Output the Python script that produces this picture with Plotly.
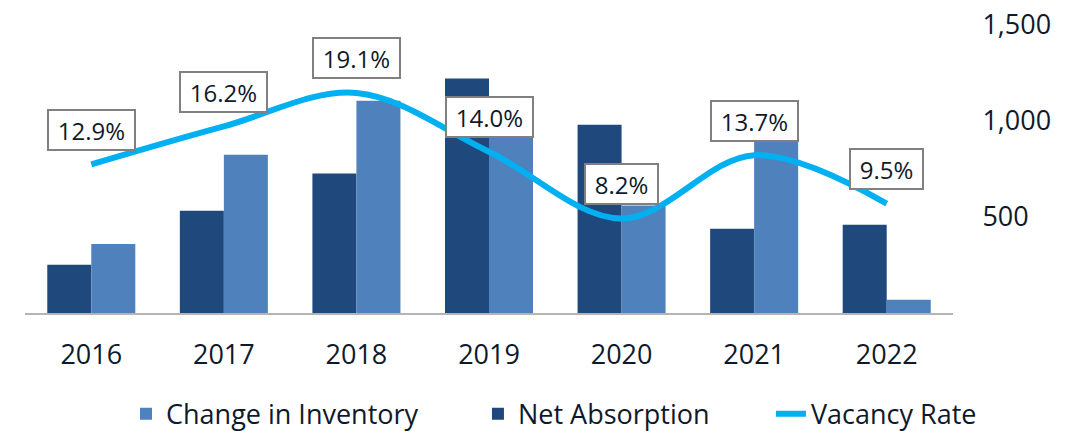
import plotly.graph_objects as go

# Annual figures
years = [2016, 2017, 2018, 2019, 2020, 2021, 2022]
net_absorption = [251, 532, 726, 1221, 980, 439, 459]
change_in_inventory = [359, 824, 1106, 1015, 560, 1049, 69]
vacancy_rate = [12.9, 16.2, 19.1, 14.0, 8.2, 13.7, 9.5]

y_ticks = [500, 1000, 1500]
y_tick_text = ["500", "1,000", "1,500"]

DARK = "#1F497D"
LIGHT = "#4F81BD"
CYAN = "#00B0F0"
TEXT = "#0E1A2B"
FONT = "Open Sans"
FS = 27

fig = go.Figure()

fig.add_trace(go.Bar(
    x=years, y=net_absorption, name="Net Absorption",
    marker=dict(color=DARK, line=dict(width=0)),
    legend="legend2",
))
fig.add_trace(go.Bar(
    x=years, y=change_in_inventory, name="Change in Inventory",
    marker=dict(color=LIGHT, line=dict(width=0)),
    legend="legend",
))
fig.add_trace(go.Scatter(
    x=years, y=vacancy_rate, name="Vacancy Rate", yaxis="y2",
    mode="lines", line=dict(color=CYAN, width=6, shape="spline", smoothing=1.0),
    legend="legend3",
))

# Boxed vacancy labels above each point
for yr, v in zip(years, vacancy_rate):
    fig.add_annotation(
        x=yr, y=v, xref="x", yref="y2", text=f"\u00a0{v:.1f}%\u00a0",
        showarrow=False, yshift=34.5,
        font=dict(family=FONT, size=24, color=TEXT),
        bgcolor="white", bordercolor="#808080", borderwidth=2, borderpad=2.5,
    )

legend_style = dict(
    orientation="h", xref="container", yref="container",
    xanchor="left", yanchor="middle", y=0.039,
    font=dict(family=FONT, size=FS, color=TEXT),
    bgcolor="rgba(0,0,0,0)", borderwidth=0,
)

fig.update_layout(
    width=1076, height=431,
    margin=dict(l=25, r=123, t=25, b=118, autoexpand=False),
    paper_bgcolor="white", plot_bgcolor="white",
    barmode="group", bargap=0.336, bargroupgap=0,
    font=dict(family=FONT, size=FS, color=TEXT),
    showlegend=True,
    legend=dict(legend_style, x=0.1171),
    legend2=dict(legend_style, x=0.4442),
    legend3=dict(legend_style, x=0.7165),
    xaxis=dict(
        type="linear", range=[years[0] - 0.5, years[-1] + 0.5],
        tickvals=years, ticktext=[str(y) for y in years],
        showline=True, linecolor="#B4B4B4", linewidth=2,
        showgrid=False, zeroline=False,
        ticks="outside", ticklen=17, tickcolor="rgba(0,0,0,0)",
        tickfont=dict(family=FONT, size=FS, color=TEXT),
    ),
    yaxis=dict(
        range=[0, 1500], side="right", showgrid=False, zeroline=False,
        showline=False, tickvals=y_ticks, ticktext=y_tick_text,
        ticks="outside", ticklen=23, tickcolor="rgba(0,0,0,0)",
        tickfont=dict(family=FONT, size=FS, color=TEXT),
    ),
    yaxis2=dict(
        range=[0, 25], overlaying="y", side="left", visible=False,
    ),
)

fig.write_html("out.html")
